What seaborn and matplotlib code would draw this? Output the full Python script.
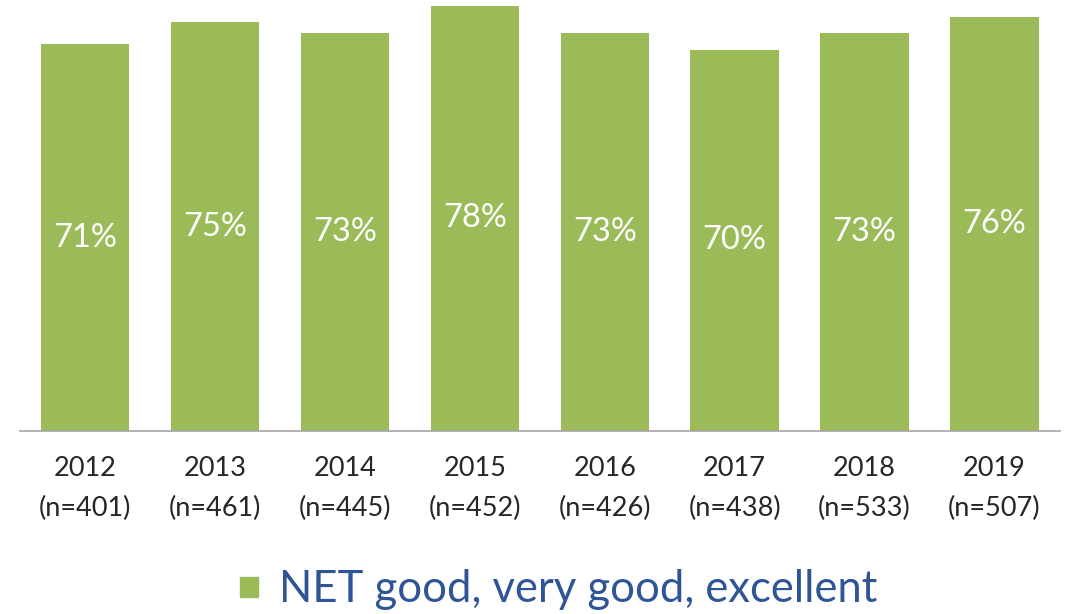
import matplotlib
matplotlib.use("Agg")
import matplotlib.pyplot as plt
import seaborn as sns
import pandas as pd
import numpy as np

years = ["2012", "2013", "2014", "2015", "2016", "2017", "2018", "2019"]
sample_sizes = ["401", "461", "445", "452", "426", "438", "533", "507"]
net_good = [71, 75, 73, 78, 73, 70, 73, 76]
series_name = "NET good, very good, excellent"

sns.set_theme(style="white")
plt.rcParams["font.family"] = ["Lato", "DejaVu Sans"]

GREEN = "#9BBB59"
BLUE = "#2F5597"

labels = [f"{y}\n(n={n})" for y, n in zip(years, sample_sizes)]
df = pd.DataFrame({"label": labels, "value": net_good})

fig = plt.figure(figsize=(10.71, 6.14), dpi=100)
ax = fig.add_axes([20 / 1071, 1 - 431 / 614, (1059.5 - 20) / 1071, 431 / 614])

sns.barplot(data=df, x="label", y="value", color=GREEN, saturation=1,
            width=0.68, ax=ax, edgecolor="none")

ax.set_ylim(0, 79.1)
ax.set_xlim(-0.5, len(years) - 0.5)
for i, v in enumerate(net_good):
    ax.text(i, v / 2, f"{v}%", ha="center", va="center", color="white",
            fontsize=23.5)

for s in ["top", "right", "left"]:
    ax.spines[s].set_visible(False)
ax.spines["bottom"].set_color("#A6A6A6")
ax.spines["bottom"].set_linewidth(1.2)
ax.set_yticks([])
ax.set_xlabel("")
ax.set_ylabel("")
ax.tick_params(axis="x", which="major", length=0, pad=18, labelsize=19.5,
               labelcolor="#262626")
ax.set_xticks(np.arange(0.5, len(years), 1.0), minor=True)
ax.tick_params(axis="x", which="minor", length=6.5, width=1.2,
               color="#A6A6A6", direction="out")
for t in ax.get_xticklabels():
    t.set_linespacing(1.72)

# legend
fig.patches.append(plt.Rectangle((240 / 1071, 1 - 597 / 614), 18 / 1071, 20 / 614,
                                 transform=fig.transFigure, color=GREEN))
fig.text(279 / 1071, 1 - 589 / 614, series_name, color=BLUE, fontsize=31.4,
         ha="left", va="center")

fig.savefig("out.png", dpi=100)
